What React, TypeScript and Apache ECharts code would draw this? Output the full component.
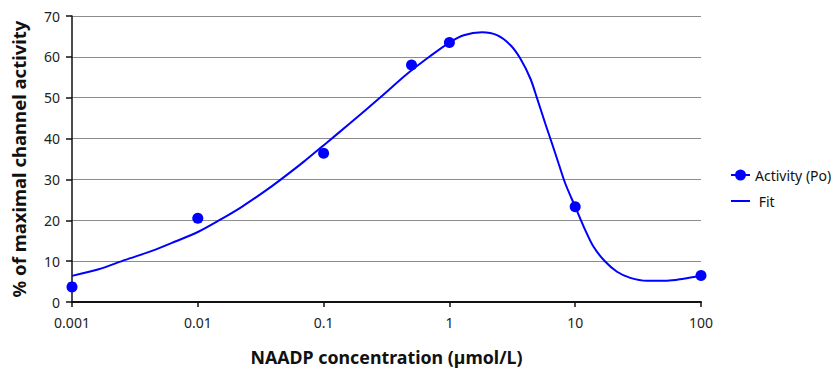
import React, { useEffect, useRef } from "react";
import * as echarts from "echarts";

const activityX = [0.001, 0.01, 0.1, 0.5, 1, 10, 100];
const activityY = [3.7, 20.5, 36.4, 58.0, 63.5, 23.3, 6.5];

const fitX = [0.001, 0.00163, 0.00265, 0.00432, 0.00662, 0.0101, 0.0146, 0.0224, 0.0344, 0.0453, 0.0693, 0.106, 0.163, 0.283, 0.46, 0.705, 1.0, 1.3, 1.82, 2.39, 3.05, 3.66, 4.4, 4.97, 5.78, 6.54, 7.38, 8.34, 10, 11.7, 14.0, 17.3, 21.5, 27.4, 37.2, 53.7, 72.8, 100];
const fitY = [6.4, 8.0, 10.3, 12.5, 14.8, 17.2, 19.9, 23.3, 27.2, 29.9, 34.3, 39.0, 43.8, 50.1, 55.8, 60.2, 63.5, 65.3, 66.0, 65.3, 62.9, 59.6, 54.7, 49.9, 43.7, 38.8, 33.9, 29.0, 23.3, 18.4, 13.5, 9.9, 7.4, 5.9, 5.2, 5.2, 5.7, 6.4];

const yTicks = [0, 10, 20, 30, 40, 50, 60, 70];

const FONT = "'Noto Sans', 'Open Sans', sans-serif";

const ICON_MARKER_LINE =
  "path://M0,4.5 L19,4.5 L19,6.5 L0,6.5 Z M4,5.5 A5.5,5.5 0 1 1 15,5.5 A5.5,5.5 0 1 1 4,5.5 Z";
const ICON_LINE = "path://M0,0 L0,0 M0,11 L0,11 M0,4.5 L19,4.5 L19,6.5 L0,6.5 Z";

export default function App() {
  const ref = useRef<HTMLDivElement>(null);
  useEffect(() => {
    if (!ref.current) return;
    const chart = echarts.init(ref.current, undefined, { renderer: "svg" });
    const fmt = (v: number) => {
      const p = Math.round(Math.log10(v));
      return p < 0 ? (10 ** p).toFixed(-p) : String(10 ** p);
    };
    chart.setOption({
      animation: false,
      textStyle: { fontFamily: FONT },
      grid: { left: 72, right: 135, top: 16, bottom: 69 },
      legend: {
        orient: "vertical",
        left: 731,
        top: 168,
        padding: 0,
        itemWidth: 19,
        itemHeight: 11,
        itemGap: 12,
        itemStyle: { color: "#0000ff", borderWidth: 0 },
        lineStyle: { width: 0 },
        textStyle: { fontFamily: FONT, fontSize: 14, color: "#111" },
        formatter: (n: string) => (n === "Fit" ? " Fit" : n),
        data: [
          { name: "Activity (Po)", icon: ICON_MARKER_LINE },
          { name: "Fit", icon: ICON_LINE },
        ],
      },
      xAxis: {
        type: "log",
        logBase: 10,
        min: 0.001,
        max: 100,
        name: "NAADP concentration (µmol/L)",
        nameLocation: "middle",
        nameGap: 46,
        nameTextStyle: { fontFamily: FONT, fontSize: 17.8, fontWeight: "bold", color: "#111" },
        axisLine: { lineStyle: { color: "#111", width: 2 } },
        axisTick: { show: true, length: 5, lineStyle: { color: "#111", width: 1.5 } },
        axisLabel: { color: "#222", fontSize: 14, margin: 13, formatter: fmt },
        splitLine: { show: false },
        minorTick: { show: false },
      },
      yAxis: {
        type: "value",
        min: 0,
        max: 70,
        interval: 10,
        name: "% of maximal channel activity",
        nameLocation: "middle",
        nameGap: 44,
        nameTextStyle: { fontFamily: FONT, fontSize: 18.5, fontWeight: "bold", color: "#111" },
        axisLine: { show: true, lineStyle: { color: "#111", width: 1.5 } },
        axisTick: { show: true, length: 6, lineStyle: { color: "#111", width: 1.5 } },
        axisLabel: { color: "#222", fontSize: 14, margin: 12, formatter: (v: number) => (yTicks.includes(v) ? String(v) : "") },
        splitLine: { show: true, lineStyle: { color: "#8c8c8c", width: 1 } },
      },
      series: [
        {
          name: "Fit",
          type: "line",
          smooth: 0.3,
          showSymbol: false,
          symbol: "none",
          lineStyle: { color: "#0000ff", width: 2 },
          itemStyle: { color: "#0000ff" },
          data: fitX.map((x, i) => [x, fitY[i]]),
          z: 2,
        },
        {
          name: "Activity (Po)",
          type: "line",
          symbol: "circle",
          symbolSize: 11,
          showSymbol: true,
          lineStyle: { opacity: 0, width: 0 },
          itemStyle: { color: "#0000ff" },
          data: activityX.map((x, i) => [x, activityY[i]]),
          z: 3,
        },
      ],
    });
    return () => chart.dispose();
  }, []);
  return <div ref={ref} style={{ width: 836, height: 371, position: "absolute", left: 0, top: 0 }} />;
}
